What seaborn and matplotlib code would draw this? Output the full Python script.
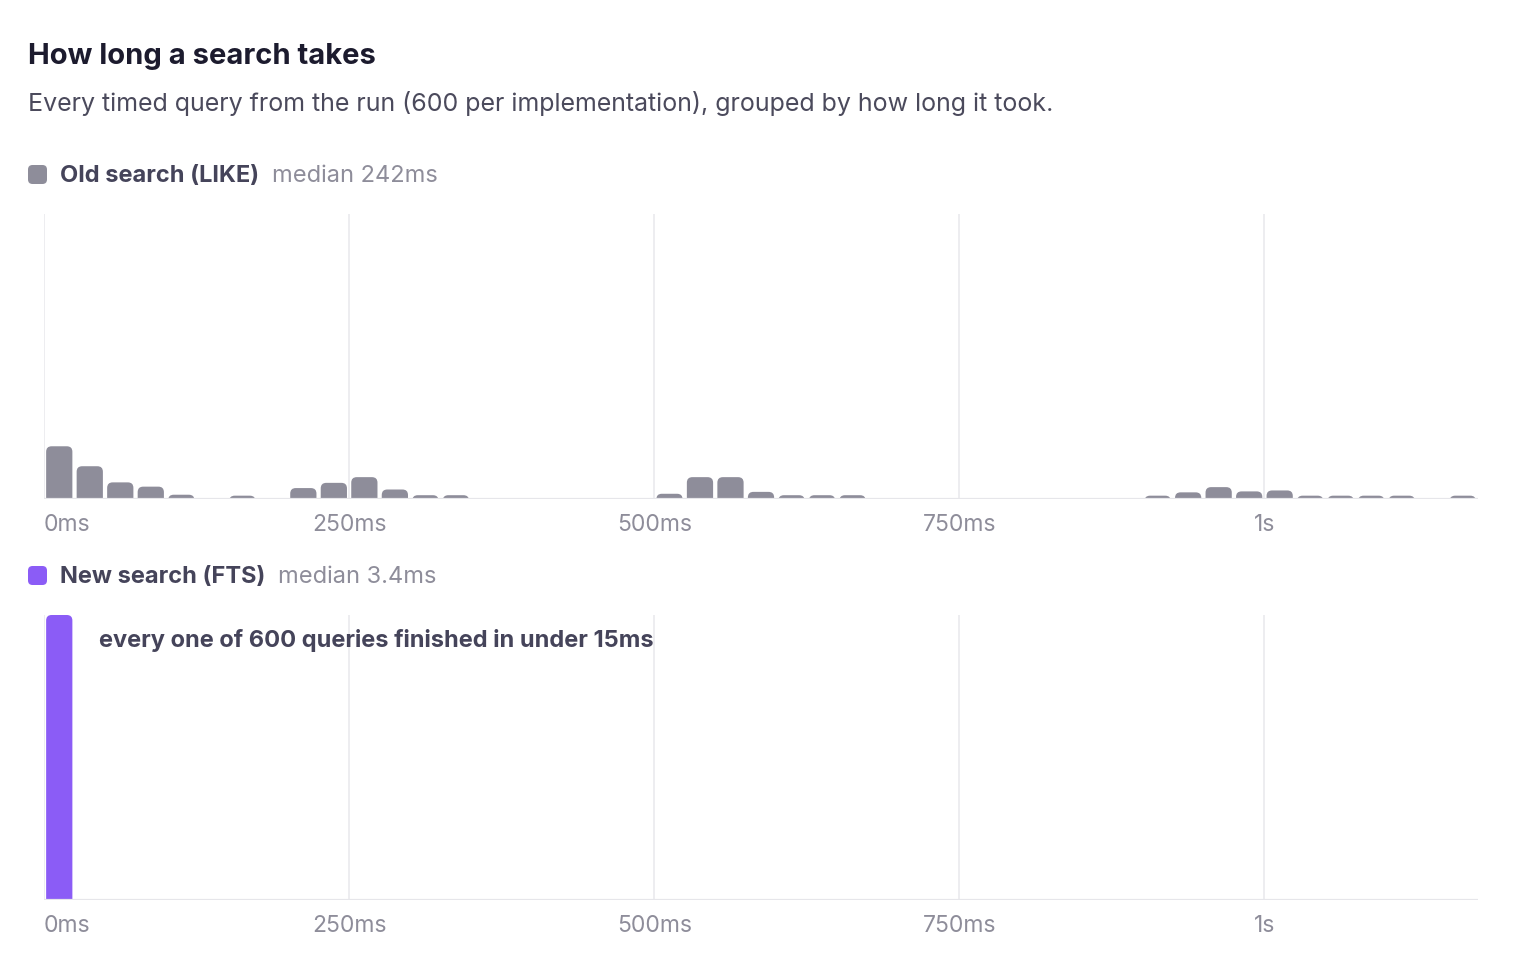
import numpy as np
import pandas as pd
import matplotlib
matplotlib.use("Agg")
import matplotlib.pyplot as plt
from matplotlib.patches import FancyBboxPatch
import seaborn as sns

# bins are 25ms wide, counts read per bin
bin_width_ms = 25
n_bins = 47
old_counts = [111, 69, 35, 26, 9, 0, 7, 0, 23, 34, 46, 20, 8, 8,
              0, 0, 0, 0, 0, 0,
              11, 46, 46, 15, 8, 8, 8,
              0, 0, 0, 0, 0, 0, 0, 0, 0,
              7, 14, 25, 16, 18, 7, 7, 7, 7, 0, 7]
new_counts = [600] + [0] * (n_bins - 1)

tick_ms = [0, 250, 500, 750, 1000]
tick_labels = ["0ms", "250ms", "500ms", "750ms", "1s"]

series = [
    ("Old search (LIKE)", "median 242ms", old_counts, "#8e8d9a"),
    ("New search (FTS)", "median 3.4ms", new_counts, "#8b5cf6"),
]

W, H = 1526, 968
sns.set_theme(style="white")
plt.rcParams["font.family"] = ["Inter", "DejaVu Sans"]

fig = plt.figure(figsize=(W / 100, H / 100), dpi=100)


def fx(px):
    return px / W


def fy(py):
    return 1 - py / H


fig.text(fx(28), fy(64), "How long a search takes", fontsize=21, fontweight="bold",
         color="#1c1b2e", va="baseline")
fig.text(fx(28), fy(111), "Every timed query from the run (600 per implementation), grouped by how long it took.",
         fontsize=18, color="#4b4a5c", va="baseline")

x_max = n_bins * bin_width_ms
centers = np.arange(n_bins) * bin_width_ms + bin_width_ms / 2
px_per_ms = (1478 - 44) / x_max

panel_tops = [214, 615]
legend_y = [175, 576]
fig.canvas.draw()
renderer = fig.canvas.get_renderer()

for i, (name, median, counts, color) in enumerate(series):
    top = panel_tops[i]
    bottom = top + 285
    ax = fig.add_axes([fx(44), fy(bottom), fx(1478) - fx(44), (bottom - top) / H])
    df = pd.DataFrame({"ms": centers, "count": counts})
    sns.histplot(data=df, x="ms", weights="count", binwidth=bin_width_ms,
                 binrange=(0, x_max), shrink=0.86,
                 color=color, edgecolor="none", alpha=1, ax=ax)
    ax.set_xlim(0, x_max)
    ax.set_ylim(0, 600)
    px_per_count = (bottom - top) / 600

    # swap plain rectangles for rounded-top bars
    rects = list(ax.patches)
    for r in rects:
        h = r.get_height()
        if h > 0:
            rx = 5.5 / px_per_ms
            ry = 5.5 / px_per_count
            p = FancyBboxPatch((r.get_x(), -ry), r.get_width(), h + ry,
                               boxstyle=f"round,pad=0,rounding_size={rx}",
                               mutation_aspect=ry / rx, facecolor=color,
                               edgecolor="none", zorder=2)
            ax.add_patch(p)
        r.remove()

    for t in tick_ms:
        ax.axvline(t, color="#ececef", lw=1.3, zorder=0)
    ax.axhline(0, color="#e6e6ea", lw=1.6, zorder=3)
    sns.despine(ax=ax, left=True, bottom=True)
    ax.set_yticks([])
    ax.set_xlabel("")
    ax.set_ylabel("")
    ax.set_xticks(tick_ms, tick_labels)
    ax.tick_params(axis="x", length=0, pad=11, labelsize=16.5, labelcolor="#8e8d9a")
    ax.get_xticklabels()[0].set_horizontalalignment("left")

    # legend row
    ly = legend_y[i]
    fig.patches.append(FancyBboxPatch((fx(28), fy(ly + 9)), fx(19), 19 / H,
                                      boxstyle="round,pad=0,rounding_size=0.003",
                                      mutation_aspect=W / H, transform=fig.transFigure,
                                      facecolor=color, edgecolor="none"))
    lbl = fig.text(fx(60), fy(ly + 1), name, fontsize=17, fontweight="bold",
                   color="#45445a", va="center")
    ext = lbl.get_window_extent(renderer=renderer)
    fig.text(fx(ext.x1 + 13), fy(ly + 1), median, fontsize=17, color="#8e8d9a", va="center")

    if i == 1:
        ax.text((99 - 44) / px_per_ms, 600 - 25 / px_per_count,
                "every one of 600 queries finished in under 15ms",
                fontsize=17, fontweight="bold", color="#45445a", va="center")

fig.savefig("out.png", dpi=100)
